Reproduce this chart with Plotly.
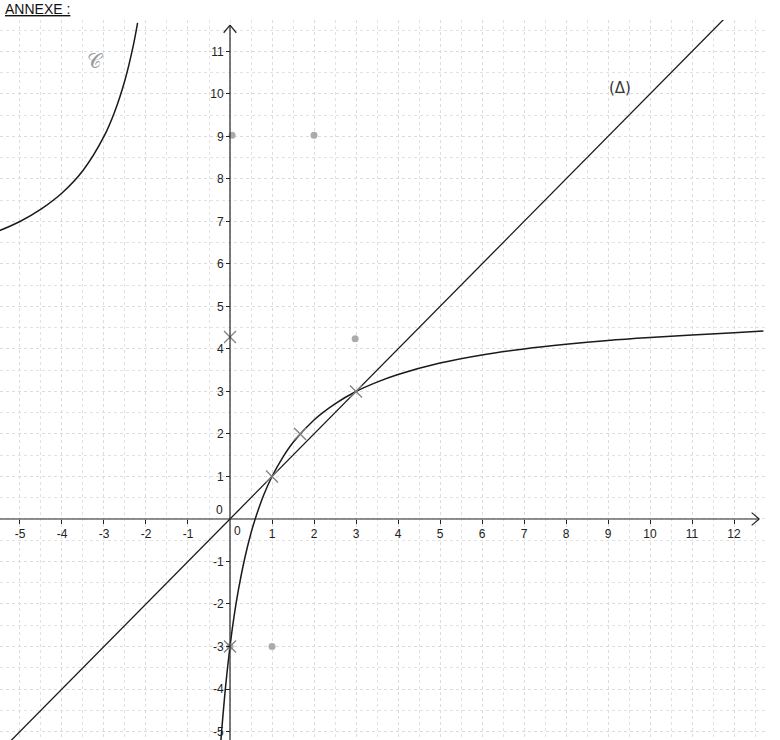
import plotly.graph_objects as go

# curve C, right branch
c_right_x = [-0.22, -0.2, -0.1, 0, 0.1, 0.2, 0.35, 0.5, 0.6, 0.8, 1, 1.25, 1.5, 2, 2.5, 3,
             3.5, 4, 5, 6, 7, 8, 9, 10, 11, 12, 12.7]
c_right_y = [-5.25, -5.0, -3.89, -3.0, -2.27, -1.67, -0.93, -0.33, 0.0, 0.56, 1.0, 1.44, 1.8,
             2.33, 2.71, 3.0, 3.22, 3.4, 3.67, 3.86, 4.0, 4.11, 4.2, 4.27, 4.33, 4.38, 4.42]

# curve C, left branch
c_left_x = [-5.5, -5, -4.5, -4, -3.5, -3, -2.75, -2.5, -2.3, -2.2]
c_left_y = [6.78, 7.0, 7.29, 7.67, 8.2, 9.0, 9.57, 10.33, 11.15, 11.67]

# line (Delta)
delta_x = [-5.6, 11.9]
delta_y = [-5.6, 11.9]

# pencil marks on the sheet
dot_x = [0.05, 2.0, 2.98, 1.0, 0.0]
dot_y = [9.03, 9.03, 4.24, -3.0, -3.0]
cross_x = [1.0, 1.67, 3.0, 0.0, 0.0]
cross_y = [1.0, 2.0, 3.0, 4.28, -3.0]

x_ticks = [-5, -4, -3, -2, -1, 1, 2, 3, 4, 5, 6, 7, 8, 9, 10, 11, 12]
y_ticks = [-5, -4, -3, -2, -1, 1, 2, 3, 4, 5, 6, 7, 8, 9, 10, 11]

X_RANGE = [-5.476, 12.738]
Y_RANGE = [-5.20, 11.74]
X_TIP = 12.6
Y_TIP = 11.62

fig = go.Figure()

fig.add_trace(go.Scatter(x=delta_x, y=delta_y, mode='lines',
                         line=dict(color='#1a1a1a', width=1.3), hoverinfo='skip'))
fig.add_trace(go.Scatter(x=c_right_x, y=c_right_y, mode='lines',
                         line=dict(color='#1a1a1a', width=1.5, shape='spline'), hoverinfo='skip'))
fig.add_trace(go.Scatter(x=c_left_x, y=c_left_y, mode='lines',
                         line=dict(color='#1a1a1a', width=1.5, shape='spline'), hoverinfo='skip'))
fig.add_trace(go.Scatter(x=dot_x, y=dot_y, mode='markers',
                         marker=dict(color='#ababab', size=7), hoverinfo='skip'))
fig.add_trace(go.Scatter(x=cross_x, y=cross_y, mode='markers',
                         marker=dict(symbol='x-thin', size=12, line=dict(color='#808080', width=1.3)),
                         hoverinfo='skip'))

grid = dict(showgrid=True, gridcolor='#dcdcdc', griddash='dot', gridwidth=1)
minor_grid = dict(dtick=0.5, tick0=0, showgrid=True, gridcolor='#e2e2e2', griddash='dot')
tick_font = dict(family='Liberation Sans, Arial', size=12, color='#222')

fig.update_xaxes(range=X_RANGE, tickvals=x_ticks, ticktext=[str(v) for v in x_ticks],
                 anchor='free', position=(0 - Y_RANGE[0]) / (Y_RANGE[1] - Y_RANGE[0]),
                 ticks='outside', ticklen=4, tickcolor='#222', showline=False, zeroline=False,
                 automargin=False, tickfont=tick_font, minor=minor_grid, **grid)
fig.update_yaxes(range=Y_RANGE, tickvals=y_ticks, ticktext=[str(v) for v in y_ticks],
                 anchor='free', position=(0 - X_RANGE[0]) / (X_RANGE[1] - X_RANGE[0]),
                 ticks='outside', ticklen=4, tickcolor='#222', showline=False, zeroline=False,
                 automargin=False, tickfont=tick_font, minor=minor_grid, **grid)

# axes with open arrow heads
axis_line = dict(color='#222', width=1.2)
fig.add_shape(type='line', x0=X_RANGE[0], x1=X_TIP, y0=0, y1=0, line=axis_line)
fig.add_shape(type='line', x0=0, x1=0, y0=Y_RANGE[0], y1=Y_TIP, line=axis_line)
fig.add_shape(type='line', x0=X_TIP - 0.18, x1=X_TIP, y0=0.15, y1=0, line=axis_line)
fig.add_shape(type='line', x0=X_TIP - 0.18, x1=X_TIP, y0=-0.15, y1=0, line=axis_line)
fig.add_shape(type='line', x0=-0.15, x1=0, y0=Y_TIP - 0.18, y1=Y_TIP, line=axis_line)
fig.add_shape(type='line', x0=0.15, x1=0, y0=Y_TIP - 0.18, y1=Y_TIP, line=axis_line)

# the two zeros
fig.add_annotation(x=0.18, y=0, text='0', showarrow=False, yshift=-12, font=tick_font)
fig.add_annotation(x=-0.25, y=0.2, text='0', showarrow=False, font=tick_font)

fig.add_annotation(x=9.29, y=10.14, text='(Δ)', showarrow=False,
                   font=dict(family='DejaVu Sans', size=15, color='#333'))
fig.add_annotation(x=-3.21, y=10.78, text='𝒞', showarrow=False,
                   font=dict(family='DejaVu Serif', size=20, color='#999'))

fig.add_annotation(x=0.004, y=1, xref='paper', yref='paper', xanchor='left', yanchor='bottom',
                   yshift=1, text='<u>ANNEXE :</u>', showarrow=False,
                   font=dict(family='Liberation Sans, Arial', size=14, color='#111'))

fig.update_layout(
    width=780, height=740,
    margin=dict(l=0, r=15, t=20, b=0),
    plot_bgcolor='white', paper_bgcolor='white',
    showlegend=False,
)

# drop the page's default body margin so the figure sits at the window's corner
fig.write_html("out.html", config={'displayModeBar': False},
               post_script="document.body.style.margin='0';")
